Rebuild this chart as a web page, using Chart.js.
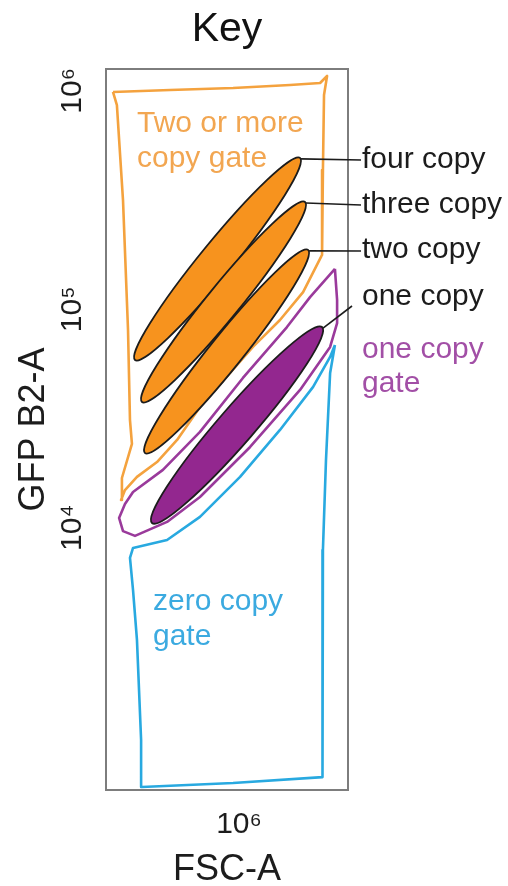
<!DOCTYPE html>
<html><head><meta charset="utf-8">
<script src="https://cdn.jsdelivr.net/npm/chart.js@4.4.1/dist/chart.umd.min.js"></script>
<style>html,body{margin:0;padding:0;background:#fff;}canvas{display:block;}</style>
</head><body>
<canvas id="c" width="508" height="886"></canvas>
<script>
// ---- axis ticks (log10 decades) ----
const yTickValues = [4, 5, 6];
const yTickLabels = ['10⁴', '10⁵', '10⁶'];
const xTickValues = [6];
const xTickLabels = ['10⁶'];

// ---- gates (log10 FSC-A, log10 GFP B2-A) ----
const twoOrMoreGateX = [5.422, 5.684, 5.973, 6.234, 6.372, 6.404, 6.390, 6.385, 6.381, 6.294, 6.188, 6.064, 5.959, 5.821, 5.716, 5.624, 5.532, 5.477, 5.459, 5.463, 5.509, 5.500, 5.491, 5.468, 5.440, 5.422];
const twoOrMoreGateY = [5.995, 6.004, 6.013, 6.027, 6.036, 6.068, 5.981, 5.638, 5.249, 5.079, 4.951, 4.828, 4.709, 4.553, 4.402, 4.301, 4.233, 4.173, 4.127, 4.228, 4.384, 4.493, 4.905, 5.500, 5.935, 5.995];

const oneCopyGateX = [6.440, 6.450, 6.450, 6.418, 6.280, 6.051, 5.821, 5.670, 5.523, 5.468, 5.450, 5.477, 5.514, 5.651, 5.821, 6.018, 6.220, 6.326, 6.440];
const oneCopyGateY = [5.185, 5.043, 4.937, 4.828, 4.631, 4.370, 4.141, 4.027, 3.963, 3.985, 4.045, 4.109, 4.164, 4.265, 4.439, 4.686, 4.919, 5.056, 5.185];

const zeroCopyGateX = [6.440, 6.418, 6.399, 6.385, 6.381, 6.385, 5.973, 5.555, 5.551, 5.532, 5.514, 5.500, 5.514, 5.670, 5.821, 6.005, 6.188, 6.340, 6.418, 6.440];
const zeroCopyGateY = [4.837, 4.709, 4.310, 3.898, 3.212, 2.859, 2.832, 2.814, 3.029, 3.487, 3.715, 3.862, 3.908, 3.944, 4.050, 4.233, 4.448, 4.645, 4.782, 4.837];

// ---- populations: low tip and high tip of each cloud ----
const populations = ['four copy', 'three copy', 'two copy', 'one copy'];
const popLowX  = [5.523, 5.555, 5.569, 5.601];
const popLowY  = [4.768, 4.576, 4.342, 4.022];
const popHighX = [6.280, 6.303, 6.317, 6.381];
const popHighY = [5.693, 5.491, 5.272, 4.919];

// ---- styles ----
const FONT = "'Liberation Sans', Arial, Helvetica, sans-serif";
const ORANGE_LINE = '#F4A23E', ORANGE_FILL = '#F7931E', ORANGE_TEXT = '#F2A651';
const PURPLE_LINE = '#9A3A9B', PURPLE_FILL = '#93278F', PURPLE_TEXT = '#A24FA6';
const BLUE_LINE = '#28A9E0', BLUE_TEXT = '#3BAAE0';
const INK = '#1c1c1c';
const popStyle = [
  {fill: ORANGE_FILL, width: 33},
  {fill: ORANGE_FILL, width: 33},
  {fill: ORANGE_FILL, width: 33},
  {fill: PURPLE_FILL, width: 36}
];
const leaderEnds = [[361, 160], [361, 205], [361, 251], [352, 306]];
const textLabels = [
  {t: 'Two or more', x: 137, y: 132, c: ORANGE_TEXT},
  {t: 'copy gate', x: 137, y: 167, c: ORANGE_TEXT},
  {t: populations[0], x: 362, y: 168, c: INK},
  {t: populations[1], x: 362, y: 213, c: INK},
  {t: populations[2], x: 362, y: 258, c: INK},
  {t: populations[3], x: 362, y: 305, c: INK},
  {t: 'one copy', x: 362, y: 358, c: PURPLE_TEXT},
  {t: 'gate', x: 362, y: 392, c: PURPLE_TEXT},
  {t: 'zero copy', x: 153, y: 610, c: BLUE_TEXT},
  {t: 'gate', x: 153, y: 645, c: BLUE_TEXT}
];

const pts = (xs, ys) => xs.map((v, i) => ({x: v, y: ys[i]}));

const framePlugin = {
  id: 'frame',
  beforeDatasetsDraw(chart) {
    const {ctx, chartArea: a} = chart;
    ctx.save();
    ctx.strokeStyle = '#7d7d7d';
    ctx.lineWidth = 2;
    ctx.strokeRect(a.left, a.top, a.right - a.left, a.bottom - a.top);
    ctx.restore();
  }
};

const populationPlugin = {
  id: 'populations',
  afterDatasetsDraw(chart) {
    const {ctx, scales: {x, y}} = chart;
    ctx.save();
    for (let i = 0; i < populations.length; i++) {
      const x1 = x.getPixelForValue(popLowX[i]), y1 = y.getPixelForValue(popLowY[i]);
      const x2 = x.getPixelForValue(popHighX[i]), y2 = y.getPixelForValue(popHighY[i]);
      const cx = (x1 + x2) / 2, cy = (y1 + y2) / 2;
      const half = Math.hypot(x2 - x1, y2 - y1) / 2;
      const ang = Math.atan2(y2 - y1, x2 - x1);
      ctx.beginPath();
      ctx.ellipse(cx, cy, half, popStyle[i].width / 2, ang, 0, Math.PI * 2);
      ctx.fillStyle = popStyle[i].fill;
      ctx.fill();
      ctx.lineWidth = 1.8;
      ctx.strokeStyle = INK;
      ctx.stroke();
    }
    // leader lines
    ctx.lineWidth = 1.6;
    ctx.strokeStyle = INK;
    for (let i = 0; i < populations.length; i++) {
      const tx = x.getPixelForValue(popHighX[i]), ty = y.getPixelForValue(popHighY[i]);
      ctx.beginPath();
      ctx.moveTo(tx + 1, ty + 1);
      ctx.lineTo(leaderEnds[i][0], leaderEnds[i][1]);
      ctx.stroke();
    }
    ctx.restore();
  },
  afterDraw(chart) {
    const {ctx} = chart;
    ctx.save();
    ctx.font = '30px ' + FONT;
    ctx.textBaseline = 'alphabetic';
    ctx.textAlign = 'left';
    textLabels.forEach(l => { ctx.fillStyle = l.c; ctx.fillText(l.t, l.x, l.y); });
    ctx.restore();
  }
};

Chart.defaults.font.family = FONT;

new Chart(document.getElementById('c'), {
  type: 'scatter',
  data: {
    datasets: [
      {label: 'Two or more copy gate', data: pts(twoOrMoreGateX, twoOrMoreGateY), borderColor: ORANGE_LINE},
      {label: 'one copy gate', data: pts(oneCopyGateX, oneCopyGateY), borderColor: PURPLE_LINE},
      {label: 'zero copy gate', data: pts(zeroCopyGateX, zeroCopyGateY), borderColor: BLUE_LINE}
    ].map(d => Object.assign(d, {showLine: true, pointRadius: 0, borderWidth: 2.6, borderJoinStyle: 'round', fill: false, tension: 0, clip: false}))
  },
  options: {
    responsive: false,
    animation: false,
    events: [],
    layout: {padding: {left: 0, right: 160, top: 0, bottom: 0}},
    plugins: {
      legend: {display: false},
      tooltip: {enabled: false},
      title: {
        display: true, text: 'Key', color: '#111', fullSize: false,
        font: {size: 41, weight: 'normal'},
        padding: {top: 5, bottom: 14.8}
      }
    },
    scales: {
      x: {
        type: 'linear', min: 5.39, max: 6.5,
        afterBuildTicks: s => { s.ticks = xTickValues.map(v => ({value: v})); },
        afterFit: s => { s.height = 96; },
        grid: {display: false, drawTicks: false},
        border: {display: false},
        ticks: {callback: (v, i) => xTickLabels[i], font: {size: 30}, color: '#1c1c1c', maxRotation: 0, padding: 17},
        title: {display: true, text: 'FSC-A', color: '#1c1c1c', font: {size: 36, lineHeight: 0.8}, padding: {top: 0, bottom: 2}}
      },
      y: {
        type: 'linear', min: 2.8, max: 6.1,
        afterBuildTicks: s => { s.ticks = yTickValues.map(v => ({value: v})); },
        afterFit: s => { s.width = 106; },
        grid: {display: false, drawTicks: false},
        border: {display: false},
        ticks: {callback: (v, i) => yTickLabels[i], font: {size: 30}, color: '#1c1c1c', minRotation: 90, maxRotation: 90, crossAlign: 'center', padding: 10},
        title: {display: true, text: 'GFP B2-A', color: '#1c1c1c', font: {size: 36}, padding: {top: 12, bottom: 0}}
      }
    }
  },
  plugins: [framePlugin, populationPlugin]
});
</script>
</body></html>
